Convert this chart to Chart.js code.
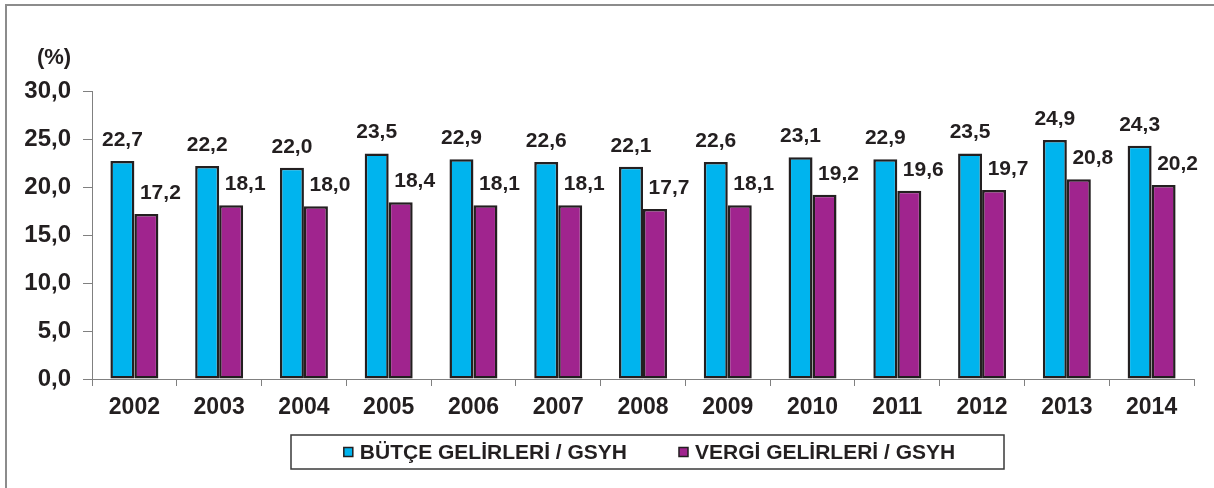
<!DOCTYPE html>
<html>
<head>
<meta charset="utf-8">
<script src="https://cdn.jsdelivr.net/npm/chart.js@4.4.1/dist/chart.umd.min.js"></script>
<style>
  html, body { margin: 0; padding: 0; background: #fff; }
  #wrap { width: 1214px; height: 488px; }
</style>
</head>
<body>
<div id="wrap"><canvas id="gelirChart" width="1214" height="488"></canvas></div>
<script>
// chart data
var years = ["2002", "2003", "2004", "2005", "2006", "2007", "2008", "2009", "2010", "2011", "2012", "2013", "2014"];
var butceGelirleri = [22.7, 22.2, 22.0, 23.5, 22.9, 22.6, 22.1, 22.6, 23.1, 22.9, 23.5, 24.9, 24.3];
var vergiGelirleri = [17.2, 18.1, 18.0, 18.4, 18.1, 18.1, 17.7, 18.1, 19.2, 19.6, 19.7, 20.8, 20.2];
var yTickLabels = ["0,0", "5,0", "10,0", "15,0", "20,0", "25,0", "30,0"];
var seriesNames = ["BÜTÇE GELİRLERİ / GSYH", "VERGİ GELİRLERİ / GSYH"];

var textColor = "#231F20";
var fontFamily = "'Liberation Sans', Arial, sans-serif";

function fmt(v) {
  return v.toFixed(1).replace(".", ",");
}

// frame, unit label, value labels and legend box
var extrasPlugin = {
  id: "extras",
  beforeDraw: function(chart) {
    var ctx = chart.ctx;
    ctx.save();
    ctx.fillStyle = "#fff";
    ctx.fillRect(0, 0, chart.width, chart.height);
    ctx.strokeStyle = "#8c8c8c";
    ctx.lineWidth = 2;
    ctx.beginPath();
    ctx.moveTo(6, chart.height);
    ctx.lineTo(6, 5);
    ctx.lineTo(chart.width, 5);
    ctx.stroke();

    ctx.fillStyle = textColor;
    ctx.font = "bold 22px " + fontFamily;
    ctx.textAlign = "center";
    ctx.textBaseline = "middle";
    ctx.fillText("(%)", 54, 58);
    ctx.restore();
  },
  afterDatasetsDraw: function(chart) {
    var ctx = chart.ctx;
    ctx.save();
    ctx.fillStyle = textColor;
    ctx.font = "bold 21px " + fontFamily;
    ctx.textAlign = "center";
    ctx.textBaseline = "alphabetic";
    chart.data.datasets.forEach(function(ds, di) {
      var meta = chart.getDatasetMeta(di);
      meta.data.forEach(function(bar, i) {
        var dx = di === 1 ? 14 : 0;
        ctx.fillText(fmt(ds.data[i]), bar.x + dx, bar.y - 15);
      });
    });
    ctx.restore();
  },
  afterDraw: function(chart) {
    var ctx = chart.ctx;
    var boxL = 291, boxT = 435, boxR = 1004, boxB = 469;
    ctx.save();
    ctx.strokeStyle = "#3a3a3a";
    ctx.lineWidth = 1.5;
    ctx.strokeRect(boxL, boxT, boxR - boxL, boxB - boxT);

    ctx.font = "bold 21px " + fontFamily;
    ctx.textBaseline = "middle";
    ctx.textAlign = "left";
    var sq = 9, gap = 7, itemGap = 52;
    var ds = chart.data.datasets;
    var w0 = ctx.measureText(ds[0].label).width;
    var w1 = ctx.measureText(ds[1].label).width;
    var total = sq + gap + w0 + itemGap + sq + gap + w1;
    var x = (boxL + boxR) / 2 - total / 2 + 2;
    var cy = (boxT + boxB) / 2;
    [w0, w1].forEach(function(w, i) {
      ctx.fillStyle = ds[i].backgroundColor;
      ctx.fillRect(x, cy - sq / 2, sq, sq);
      ctx.strokeStyle = textColor;
      ctx.lineWidth = 1.5;
      ctx.strokeRect(x, cy - sq / 2, sq, sq);
      ctx.fillStyle = textColor;
      ctx.fillText(ds[i].label, x + sq + gap, cy + 1);
      x += sq + gap + w + itemGap;
    });
    ctx.restore();
  }
};

var chartData = {
  labels: years,
  datasets: [{
    label: seriesNames[0],
    data: butceGelirleri,
    backgroundColor: "#00B4EE",
    borderColor: textColor,
    borderWidth: 2.5,
    borderSkipped: false,
    categoryPercentage: 0.566,
    barPercentage: 1.0
  }, {
    label: seriesNames[1],
    data: vergiGelirleri,
    backgroundColor: "#A0248E",
    borderColor: textColor,
    borderWidth: 2.5,
    borderSkipped: false,
    categoryPercentage: 0.566,
    barPercentage: 1.0
  }]
};

var chartOptions = {
  responsive: false,
  animation: false,
  maintainAspectRatio: false,
  layout: {
    padding: { left: 0, right: 20, top: 91, bottom: 59 }
  },
  plugins: {
    legend: { display: false },
    tooltip: { enabled: false }
  },
  scales: {
    x: {
      grid: {
        offset: true,
        drawOnChartArea: false,
        drawTicks: true,
        tickLength: 7,
        color: "#808080"
      },
      border: { display: true, color: "#808080", width: 1 },
      ticks: {
        color: textColor,
        padding: 8,
        font: { family: fontFamily, size: 23, weight: "bold" }
      },
      afterFit: function(scale) { scale.height = 50; }
    },
    y: {
      min: 0,
      max: 30,
      grid: {
        drawOnChartArea: false,
        drawTicks: true,
        tickLength: 9,
        color: "#808080"
      },
      border: { display: true, color: "#808080", width: 1 },
      ticks: {
        stepSize: 5,
        color: textColor,
        padding: 12,
        font: { family: fontFamily, size: 24, weight: "bold" },
        callback: function(value) { return yTickLabels[Math.round(value / 5)]; }
      },
      afterFit: function(scale) { scale.width = 92; }
    }
  }
};

var gelirChart = new Chart(document.getElementById("gelirChart").getContext("2d"), {
  type: "bar",
  data: chartData,
  options: chartOptions,
  plugins: [extrasPlugin]
});
</script>
</body>
</html>
